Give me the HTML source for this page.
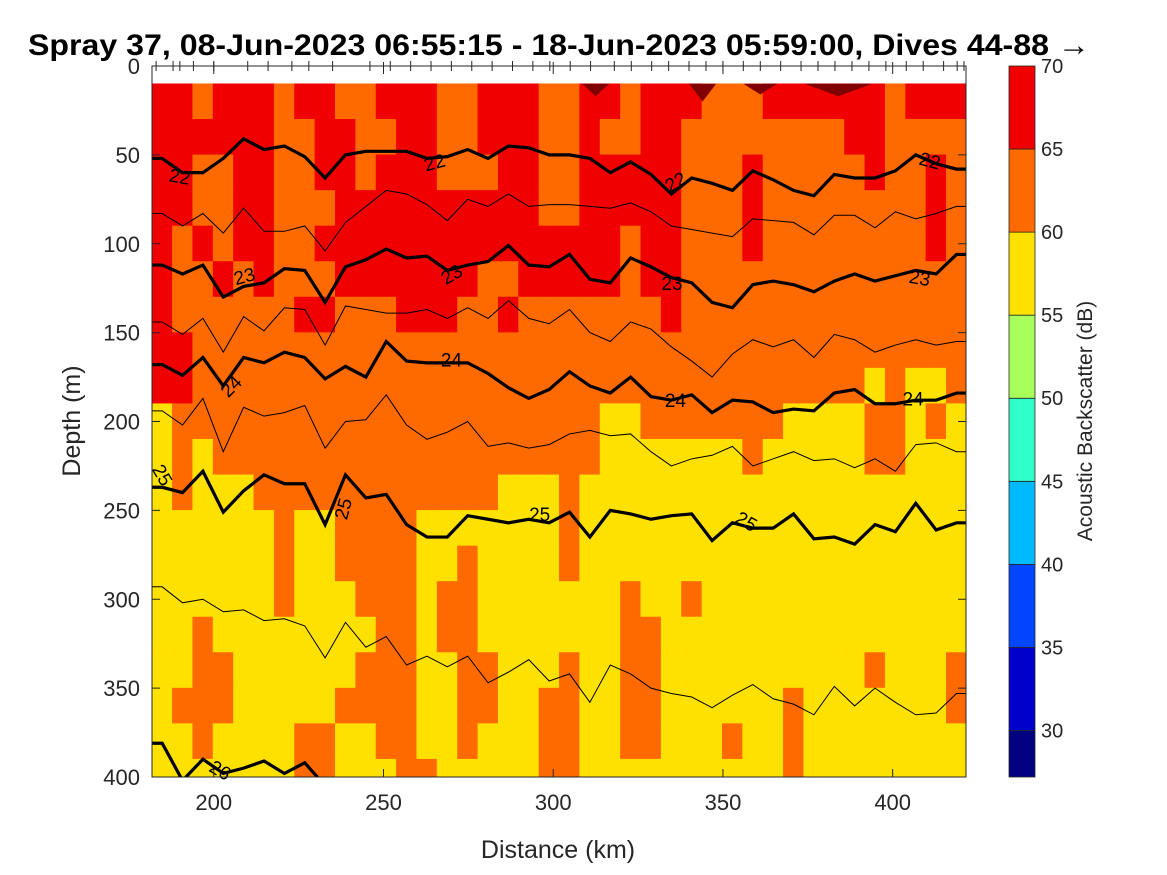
<!DOCTYPE html>
<html><head><meta charset="utf-8"><style>
html,body{margin:0;padding:0;background:#fff;}
svg{display:block;font-family:"Liberation Sans",Arial,sans-serif;}
</style></head><body>
<svg id="chart" width="1167" height="875" viewBox="0 0 1167 875" xmlns="http://www.w3.org/2000/svg">
<defs><clipPath id="plotclip"><rect x="152" y="66" width="814" height="711"/></clipPath></defs>
<text x="559" y="55" text-anchor="middle" font-size="30" font-weight="bold" fill="#000" textLength="1062" lengthAdjust="spacingAndGlyphs">Spray 37, 08-Jun-2023 06:55:15 - 18-Jun-2023 05:59:00, Dives 44-88 <tspan font-weight="normal">→</tspan></text>
<g id="field" clip-path="url(#plotclip)"></g>
<g id="contours" clip-path="url(#plotclip)"></g>
<g id="labels"></g>
<g id="axes"></g>
<g id="cbar"></g>
<text x="558" y="858" text-anchor="middle" font-size="25" fill="#262626">Distance (km)</text>
<text transform="translate(80,421) rotate(-90)" text-anchor="middle" font-size="25" fill="#262626">Depth (m)</text>
<text transform="translate(1092,421) rotate(-90)" text-anchor="middle" font-size="21" fill="#262626">Acoustic Backscatter (dB)</text>
</svg>
<script>
// ---- data ----
const kmStart = 181.8, kmStep = 6;           // column grid (km)
const depthRowTops = [10,30,50,70,90,110,130,150,170,190,210,230,250,270,290,310,330,350,370,390];
const fieldRows = [
"RRORRRORROORRROORRRO"+"ORRORRROOORRRRRROR RR".replace(' ',''),
"RRRRRROORROORROORRRO"+"OROORROOOOOOOORROOOO",
"RROORROORRORRROOORRO"+"ORRRRROOOROOOOOROORO",
"RROORROOORRRRRRRRRRO"+"ORRRRROOOROOOOOOOORO",
"RORORROORRRRRRRRRRRR"+"RRRORROOOROOOOOOOORO",
"ROOROROOORRRRRRROORRR".slice(0,20)+"RRRORROOOOOOOOOOOOOO",
"ROOOOOORROOORRROOROO"+"OOOOOROOOOOOOOOOOOOO",
"RROOOOOOOOOOOOOOOOOO"+"OOOOOOOOOOOOOOOOOOOO",
"RROOOOOOOOOOOOOOOOOO"+"OOOOOOOOOOOOOOOYOYYO",
"YOOOOOOOOOOOOOOOOOOO"+"OOYYOOOOOOOYYYYOOYOY",
"YOYOOOOOOOOOOOOOOOOO"+"OOYYYYYYYOYYYYYOOYYY",
"YOYYYOOOOOOOOOOOOYYY"+"OYYYYYYYYYYYYYYYYYYY",
"YYYYYYOYYOOOOYYYYYYY"+"OYYYYYYYYYYYYYYYYYYY",
"YYYYYYOYYOOOOYYOYYYY"+"OYYYYYYYYYYYYYYYYYYY",
"YYYYYYOYYYOOOYOOYYYY"+"YYYOYYOYYYYYYYYYYYYY",
"YYOYYYYYYYYOOYOOYYYY"+"YYYOOYYYYYYYYYYYYYYY",
"YYOOYYYYYYOOOYYOOYYY"+"OYYOOYYYYYYYYYYOYYYO",
"YOOOYYYYYOOOOYYOOYYO"+"OYYOOYYYYYYOYYYYYYYO",
"YYOYYYYOOYYOOYYOYYYO"+"OYYOOYYYOYYOYYYYYYYY",
"YYYYYYYOOYYYOOYYYYYO"+"OYYYYYYYYYYOYYYYYYYY"
];
const darkPatchKm = [312.5, 344, 361, 384];
const darkPatchHalfKm = [4, 4, 5, 10];
const darkPatchDepth = [17, 20, 16, 17];
const c22 = [52,60,60,52,41,47,45,51,63,50,48,48,48,52,51,47,52,45,46,50, 50,52,60,54,61,72,63,66,70,59,64,70,73,61,63,63,59,50,55,58];
const c225 = [83,90,83,94,80,93,93,90,104,88,79,70,72,78,87,75,79,72,79,78, 78,79,80,77,82,90,92,94,96,86,87,88,95,84,84,91,82,86,83,79];
const c23 = [112,117,112,130,124,122,114,115,133,113,109,103,108,107,115,112,110,101,112,113, 106,120,122,108,113,119,122,133,136,123,121,123,127,121,117,121,118,115,117,106];
const c235 = [144,151,142,161,141,149,136,137,157,135,137,139,139,137,142,136,142,132,142,145, 137,150,155,144,148,158,166,175,162,154,158,154,164,151,154,161,157,154,157,155];
const c24 = [168,174,164,180,164,167,161,164,176,169,175,155,166,167,167,167,173,181,187,182, 172,180,184,175,186,188,185,195,188,189,195,193,194,184,182,190,190,188,188,184];
const c245 = [194,202,187,217,192,197,195,191,215,200,199,185,202,210,206,200,214,212,215,213, 207,205,208,207,217,225,221,219,214,225,221,217,222,221,226,221,228,213,212,217];
const c25 = [237,240,228,251,239,230,235,235,258,230,243,241,258,265,265,253,255,257,255,257, 251,265,250,252,255,253,252,267,257,260,260,252,266,265,269,258,262,246,261,257];
const c255 = [293,302,300,307,306,312,311,315,333,313,327,321,337,332,338,332,347,341,334,346, 342,358,337,342,350,353,355,361,354,348,356,359,365,349,360,350,358,365,364,353];
const c26 = [381,402,390,398,395,391,398,392,405];
const levelNames = ["22","22.5","23","23.5","24","24.5","25","25.5","26"];
const labelTexts = ["22","22","22","22","23","23","23","23","24","24","24","24","25","25","25","25","26"];
const labelKm = [190,265,336,411,209,270,335,408,205,270,336,406,185,238,357,296,202];
const labelDepth = [62,54,65,53,118,117,122,119,180,165,188,187,230,249,256,252,396];
const labelRot = [10,-15,-30,15,-15,-30,0,10,-45,0,0,0,60,-75,30,0,30];
const cbarTicks = [30,35,40,45,50,55,60,65,70];
const cbarColors = ["#000080","#0000CC","#0046FF","#00BAFF","#2EFFC8","#A8FF5A","#FFE100","#FF6A00","#F00000"];
const xTicks = [200,250,300,350,400];
const yTicks = [0,50,100,150,200,250,300,350,400];
const diveKm = [183,188,200,210,223,235,246,258,270,282,294,305,318,329,340,350,361,373,383,393,404,415,421];
const diveKm2 = [190,194,216,228,252,264,276,288,299,311,323,334,345,356,367,378,388,398,409,419];

// ---- scales ----
const X0=152,X1=966,Y0=66,Y1=777, KM0=181.8, KM1=421.6, D0=0, D1=400;
const xs = km => X0 + (km-KM0)*(X1-X0)/(KM1-KM0);
const ys = d => Y0 + (d-D0)*(Y1-Y0)/(D1-D0);
const colorOf = {R:"#F00000",O:"#FF6A00",Y:"#FFE100",D:"#800000"};
const NS="http://www.w3.org/2000/svg";
function mk(tag, attrs, parent){const e=document.createElementNS(NS,tag);for(const k in attrs)e.setAttribute(k,attrs[k]);parent.appendChild(e);return e;}

// field
const field=document.getElementById('field');
fieldRows.forEach((row,r)=>{
  const dTop=depthRowTops[r], dBot=Math.min(400,(depthRowTops[r+1]||410));
  for(let c=0;c<row.length;c++){
    const k0=kmStart+c*kmStep, k1=k0+kmStep;
    const el=mk('rect',{x:xs(k0)-0.3,y:ys(dTop)-0.3,width:xs(k1)-xs(k0)+0.6,height:ys(dBot)-ys(dTop)+0.6,fill:colorOf[row[c]]||"#FFE100"},field);
    
    
  }
});
darkPatchKm.forEach((k,i)=>{
  const h=darkPatchHalfKm[i];
  const el=mk('polygon',{points:`${xs(k-h)},${ys(10)} ${xs(k+h)},${ys(10)} ${xs(k)},${ys(darkPatchDepth[i])}`,fill:"#800000"},field);
  
  
});

// contours
const cont=document.getElementById('contours');
const series=[c22,c225,c23,c235,c24,c245,c25,c255,c26];
series.forEach((arr,i)=>{
  const thick = i%2===0;
  const pts=[];
  pts.push([xs(KM0-1),ys(arr[0])]);
  arr.forEach((d,j)=>pts.push([xs(kmStart+3+j*kmStep),ys(d)]));
  if(arr.length===40) pts.push([xs(KM1+1),ys(arr[39])]);
  const el=mk('polyline',{points:pts.map(p=>p.join(',')).join(' '),fill:"none",stroke:"#000","stroke-width":thick?3.2:1,"stroke-linejoin":"miter"},cont);
  
  
});
const lab=document.getElementById('labels');
labelTexts.forEach((t,i)=>{
  const x=xs(labelKm[i]), y=ys(labelDepth[i]);
  const el=mk('text',{x:x,y:y+7,"text-anchor":"middle","font-size":"19",fill:"#000",transform:`rotate(${labelRot[i]},${x},${y})`},lab);
  el.textContent=t;
  
  
});

// axes
const ax=document.getElementById('axes');
mk('rect',{x:X0,y:Y0,width:X1-X0,height:Y1-Y0,fill:"none",stroke:"#262626","stroke-width":1},ax);
xTicks.forEach(v=>{
  const x=xs(v);
  mk('line',{x1:x,y1:Y1,x2:x,y2:Y1-8,stroke:"#262626"},ax);
  mk('line',{x1:x,y1:Y0-4,x2:x,y2:Y0+8,stroke:"#262626"},ax);
  const t=mk('text',{x:x,y:Y1+33,"text-anchor":"middle","font-size":"22",fill:"#262626"},ax);
  t.textContent=v;
  
  
});
diveKm.concat(diveKm2).forEach(k=>{
  mk('line',{x1:xs(k),y1:Y0-5,x2:xs(k),y2:Y0+5,stroke:"#262626"},ax);
});
yTicks.forEach(v=>{
  const y=ys(v);
  mk('line',{x1:X0,y1:y,x2:X0+8,y2:y,stroke:"#262626"},ax);
  mk('line',{x1:X1,y1:y,x2:X1-8,y2:y,stroke:"#262626"},ax);
  const t=mk('text',{x:140,y:y+8,"text-anchor":"end","font-size":"22",fill:"#262626"},ax);
  t.textContent=v;
  
  
});

// colorbar
const cb=document.getElementById('cbar');
const CB0=27.2, CB1=70, CX=1009, CW=26;
const cy = v => Y1 - (v-CB0)*(Y1-Y0)/(CB1-CB0);
const edges=[CB0,30,35,40,45,50,55,60,65,70];
cbarColors.forEach((col,i)=>{
  const el=mk('rect',{x:CX,y:cy(edges[i+1]),width:CW,height:cy(edges[i])-cy(edges[i+1]),fill:col,stroke:"#262626","stroke-width":0.8},cb);
  
  
});
cbarTicks.forEach(v=>{
  const t=mk('text',{x:CX+CW+6,y:cy(v)+7,"font-size":"20",fill:"#262626"},cb);
  t.textContent=v;
  
  
});
</script>
</body></html>
